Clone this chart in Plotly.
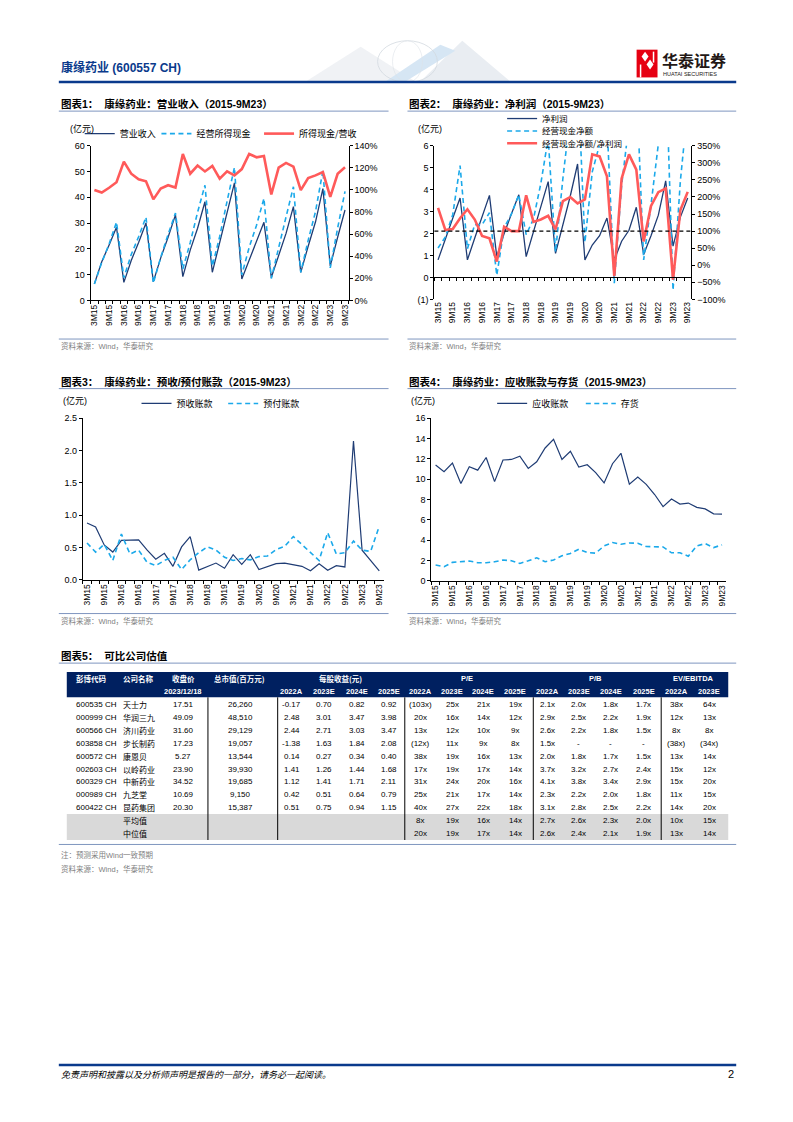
import plotly.graph_objects as go

# page is 793x1122; the browser body has an 8px margin, so the figure is 785x1114 shifted by 8px
PAGE_OFF = 8
W, H = 793 - PAGE_OFF, 1122 - PAGE_OFF

# ---------------- data ----------------
quarters = ["3M15", "6M15", "9M15", "12M15", "3M16", "6M16", "9M16", "12M16",
            "3M17", "6M17", "9M17", "12M17", "3M18", "6M18", "9M18", "12M18",
            "3M19", "6M19", "9M19", "12M19", "3M20", "6M20", "9M20", "12M20",
            "3M21", "6M21", "9M21", "12M21", "3M22", "6M22", "9M22", "12M22",
            "3M23", "6M23", "9M23"]
x_ticktext = ["3M15", "", "9M15", "", "3M16", "", "9M16", "",
              "3M17", "", "9M17", "", "3M18", "", "9M18", "",
              "3M19", "", "9M19", "", "3M20", "", "9M20", "",
              "3M21", "", "9M21", "", "3M22", "", "9M22", "",
              "3M23", "", "9M23"]

# chart 1 (亿元 / ratio)
revenue = [6.4, 15.0, 21.5, 28.4, 7.0, 15.5, 22.5, 30.0, 7.3, 16.5, 24.5, 33.2,
           9.2, 19.5, 28.0, 38.3, 10.9, 22.5, 33.0, 45.6, 8.3, 15.5, 22.5, 30.3,
           8.9, 17.5, 26.0, 36.4, 10.9, 21.0, 30.5, 43.4, 13.4, 24.5, 35.1]
cash_received = [6.4, 14.7, 21.9, 30.4, 8.8, 17.8, 24.7, 32.3, 6.7, 16.7, 25.6, 33.9,
                 12.2, 22.4, 34.2, 44.7, 13.3, 24.8, 38.5, 51.6, 9.9, 20.6, 29.2, 39.6,
                 8.5, 21.1, 32.4, 44.1, 10.9, 23.3, 34.5, 50.4, 12.6, 28.1, 42.3]
cash_ratio = [1.00, 0.977, 1.02, 1.07, 1.257, 1.147, 1.096, 1.078, 0.915, 1.013, 1.043, 1.022,
              1.326, 1.147, 1.221, 1.168, 1.218, 1.102, 1.168, 1.132, 1.189, 1.326, 1.296, 1.308,
              0.959, 1.203, 1.245, 1.212, 0.998, 1.108, 1.132, 1.162, 0.938, 1.147, 1.206]

# chart 2
net_profit = [0.80, 1.80, 2.70, 3.62, 0.80, 1.80, 2.80, 3.74, 0.95, 2.00, 2.90, 3.77,
              0.95, 2.10, 3.20, 4.37, 1.10, 2.40, 3.70, 5.17, 0.80, 1.48, 1.90, 2.71,
              0.80, 1.65, 2.15, 3.20, 1.05, 1.90, 2.84, 4.40, 1.43, 2.75, 3.62]
op_cash_net = [1.34, 1.85, 2.86, 5.10, 1.31, 2.41, 2.41, 2.95, 0.10, 2.26, 2.90, 3.77,
               1.95, 2.67, 4.29, 6.34, 1.16, 4.51, 7.40, 9.30, 1.60, 4.81, 6.06, 7.07,
               -0.26, 4.19, 6.99, 8.96, 0.80, 3.31, 6.08, 9.90, -0.58, 4.40, 7.78]
op_cash_ratio = [1.68, 1.03, 1.06, 1.38, 1.64, 1.34, 0.86, 0.79, 0.11, 1.13, 1.00, 1.00,
                 2.05, 1.27, 1.34, 1.45, 1.05, 1.88, 2.00, 1.81, 1.93, 3.25, 3.19, 2.61,
                 -0.32, 2.54, 3.25, 2.80, 0.70, 1.74, 2.14, 2.25, -0.42, 1.62, 2.15]

# chart 3
adv_receipts = [0.88, 0.82, 0.54, 0.43, 0.61, 0.62, 0.62, 0.46, 0.32, 0.41, 0.21, 0.51,
                0.67, 0.15, 0.21, 0.26, 0.18, 0.39, 0.24, 0.39, 0.16, 0.20, 0.25, 0.26,
                0.24, 0.21, 0.14, 0.25, 0.15, 0.22, 0.20, 2.15, 0.46, 0.30, 0.14]
prepayments = [0.57, 0.43, 0.55, 0.30, 0.71, 0.40, 0.46, 0.27, 0.22, 0.30, 0.35, 0.16,
               0.31, 0.42, 0.51, 0.46, 0.35, 0.30, 0.33, 0.31, 0.36, 0.37, 0.47, 0.52,
               0.67, 0.55, 0.42, 0.30, 0.73, 0.40, 0.42, 0.60, 0.46, 0.44, 0.83]

# chart 4
receivables = [11.40, 10.75, 11.60, 9.58, 11.23, 10.90, 12.14, 9.77, 11.90, 11.95, 12.27, 11.07,
               11.72, 13.08, 13.93, 11.95, 12.76, 11.20, 11.43, 10.65, 9.64, 11.53, 12.56, 9.51,
               10.23, 9.50, 8.50, 7.30, 8.05, 7.56, 7.66, 7.24, 7.08, 6.60, 6.56]
inventory = [1.56, 1.40, 1.82, 1.85, 1.95, 1.79, 1.79, 1.88, 2.05, 1.98, 1.72, 1.98,
             2.27, 1.88, 2.05, 2.47, 2.70, 3.12, 2.79, 2.73, 3.44, 3.77, 3.60, 3.73,
             3.70, 3.38, 3.34, 3.34, 2.76, 2.76, 2.43, 3.44, 3.67, 3.28, 3.54]

# table 5
tbl_codes = ["600535 CH", "000999 CH", "600566 CH", "603858 CH", "600572 CH",
             "002603 CH", "600329 CH", "000989 CH", "600422 CH"]
tbl_names = ["天士力", "华润三九", "济川药业", "步长制药", "康恩贝",
             "以岭药业", "中新药业", "九芝堂", "昆药集团"]
tbl_close = ["17.51", "49.09", "31.60", "17.23", "5.27", "23.90", "34.52", "10.69", "20.30"]
tbl_mcap = ["26,260", "48,510", "29,129", "19,057", "13,544", "39,930", "19,685", "9,150", "15,387"]
eps_22 = ["-0.17", "2.48", "2.44", "-1.38", "0.14", "1.41", "1.12", "0.42", "0.51"]
eps_23 = ["0.70", "3.01", "2.71", "1.63", "0.27", "1.26", "1.41", "0.51", "0.75"]
eps_24 = ["0.82", "3.47", "3.03", "1.84", "0.34", "1.44", "1.71", "0.64", "0.94"]
eps_25 = ["0.92", "3.98", "3.47", "2.08", "0.40", "1.68", "2.11", "0.79", "1.15"]
pe_22 = ["(103x)", "20x", "13x", "(12x)", "38x", "17x", "31x", "25x", "40x"]
pe_23 = ["25x", "16x", "12x", "11x", "19x", "19x", "24x", "21x", "27x"]
pe_24 = ["21x", "14x", "10x", "9x", "16x", "17x", "20x", "17x", "22x"]
pe_25 = ["19x", "12x", "9x", "8x", "13x", "14x", "16x", "14x", "18x"]
pb_22 = ["2.1x", "2.9x", "2.6x", "1.5x", "2.0x", "3.7x", "4.1x", "2.3x", "3.1x"]
pb_23 = ["2.0x", "2.5x", "2.2x", "-", "1.8x", "3.2x", "3.8x", "2.2x", "2.8x"]
pb_24 = ["1.8x", "2.2x", "1.8x", "-", "1.7x", "2.7x", "3.4x", "2.0x", "2.5x"]
pb_25 = ["1.7x", "1.9x", "1.5x", "-", "1.5x", "2.4x", "2.9x", "1.8x", "2.2x"]
ev_22 = ["38x", "12x", "8x", "(38x)", "13x", "15x", "15x", "11x", "14x"]
ev_23 = ["64x", "13x", "8x", "(34x)", "14x", "12x", "20x", "15x", "20x"]
mean_vals = ["8x", "19x", "16x", "14x", "2.7x", "2.6x", "2.3x", "2.0x", "10x", "15x"]
median_vals = ["20x", "19x", "17x", "14x", "2.6x", "2.4x", "2.1x", "1.9x", "13x", "14x"]
year_cols = ["2022A", "2023E", "2024E", "2025E"]

# ---------------- styling ----------------
CJK = "Noto Sans CJK SC"
NUM = "Liberation Sans"
MIX = "Liberation Sans, Noto Sans CJK SC"
DARK = "#1F3C74"
LIGHT = "#1BA9EA"
RED = "#FF5A5A"
NAVY = "#0A3A8C"
RULE = "#7F96BF"
DASH = "5px,3.5px"


def fx(x):
    return (x - PAGE_OFF) / W


def fy(y):
    return 1 - (y - PAGE_OFF) / H


fig = go.Figure()

# chart 1
fig.add_trace(go.Scatter(x=quarters, y=revenue, name="营业收入", mode="lines",
                         line=dict(color=DARK, width=1.3), xaxis="x", yaxis="y", legend="legend"))
fig.add_trace(go.Scatter(x=quarters, y=cash_received, name="经营所得现金", mode="lines",
                         line=dict(color=LIGHT, width=1.6, dash=DASH), xaxis="x", yaxis="y", legend="legend2"))
fig.add_trace(go.Scatter(x=quarters, y=cash_ratio, name="所得现金/营收", mode="lines",
                         line=dict(color=RED, width=2.6), xaxis="x", yaxis="y2", legend="legend3"))
# chart 2
fig.add_trace(go.Scatter(x=quarters, y=net_profit, name="净利润", mode="lines",
                         line=dict(color=DARK, width=1.3), xaxis="x2", yaxis="y3", legend="legend4"))
fig.add_trace(go.Scatter(x=quarters, y=op_cash_net, name="经营现金净额", mode="lines",
                         line=dict(color=LIGHT, width=1.6, dash=DASH), xaxis="x2", yaxis="y3", legend="legend5"))
fig.add_trace(go.Scatter(x=quarters, y=op_cash_ratio, name="经营现金净额/净利润", mode="lines",
                         line=dict(color=RED, width=2.6), xaxis="x2", yaxis="y4", legend="legend6"))
fig.add_trace(go.Scatter(x=quarters, y=[None] * len(quarters), mode="lines", showlegend=False,
                         hoverinfo="skip", xaxis="x5", yaxis="y3"))
# chart 3
fig.add_trace(go.Scatter(x=quarters, y=adv_receipts, name="预收账款", mode="lines",
                         line=dict(color=DARK, width=1.2), xaxis="x3", yaxis="y5", legend="legend7"))
fig.add_trace(go.Scatter(x=quarters, y=prepayments, name="预付账款", mode="lines",
                         line=dict(color=LIGHT, width=1.6, dash=DASH), xaxis="x3", yaxis="y5", legend="legend8"))
# chart 4
fig.add_trace(go.Scatter(x=quarters, y=receivables, name="应收账款", mode="lines",
                         line=dict(color=DARK, width=1.2), xaxis="x4", yaxis="y6", legend="legend9"))
fig.add_trace(go.Scatter(x=quarters, y=inventory, name="存货", mode="lines",
                         line=dict(color=LIGHT, width=1.6, dash=DASH), xaxis="x4", yaxis="y6", legend="legend10"))

tickf = dict(family=NUM, size=9, color="black")


def xaxis_cat(l, r, anchor, line=True):
    return dict(domain=[fx(l), fx(r)], anchor=anchor, type="category",
                categoryorder="array", categoryarray=quarters,
                tickmode="array", tickvals=quarters, ticktext=x_ticktext,
                tickangle=-90, tickfont=dict(family=NUM, size=8.5, color="black"),
                ticks="outside" if line else "", tickson="boundaries", ticklen=3,
                tickcolor="black", showline=line, linecolor="black", linewidth=1,
                showgrid=False, zeroline=False, range=[-0.5, len(quarters) - 0.5], fixedrange=True)


def yaxis_lin(t, b, anchor, rng, side="left", overlaying=None, **kw):
    d = dict(domain=[fy(b), fy(t)], anchor=anchor, range=rng, side=side, showline=True,
             linecolor="black", linewidth=1, ticks="outside", ticklen=3, tickcolor="black",
             showgrid=False, zeroline=False, tickfont=tickf, fixedrange=True)
    if overlaying:
        d["overlaying"] = overlaying
    d.update(kw)
    return d


c2_top, c2_bot, c2_min, c2_max = 142, 297, -1, 6
zero_pos = fy(c2_bot) + (0 - c2_min) / (c2_max - c2_min) * (fy(c2_top) - fy(c2_bot))

layout_axes = dict(
    xaxis=xaxis_cat(89, 348, "y"),
    yaxis=yaxis_lin(142, 298, "x", [0, 60], dtick=10, tick0=0),
    yaxis2=yaxis_lin(142, 298, "x", [0, 1.4], side="right", overlaying="y", dtick=0.2, tick0=0, tickformat=".0%"),
    xaxis2=xaxis_cat(434, 692, "y3", line=False),
    yaxis3=yaxis_lin(c2_top, c2_bot, "x2", [c2_min, c2_max], tickmode="array",
                     tickvals=[-1, 0, 1, 2, 3, 4, 5, 6], ticktext=["(1)", "0", "1", "2", "3", "4", "5", "6"]),
    yaxis4=yaxis_lin(c2_top, c2_bot, "x2", [-1.0, 3.5], side="right", overlaying="y3", dtick=0.5, tick0=0,
                     tickformat=".0%"),
    xaxis5=dict(xaxis_cat(434, 692, "free"), overlaying="x2", position=zero_pos, showticklabels=False,
                ticks="outside", showline=True),
    xaxis3=xaxis_cat(81, 383, "y5"),
    yaxis5=yaxis_lin(417, 580, "x3", [0, 2.5], dtick=0.5, tick0=0, tickformat=".1f"),
    xaxis4=xaxis_cat(431, 727, "y6"),
    yaxis6=yaxis_lin(417, 581, "x4", [0, 16], dtick=2, tick0=0),
)

# legends, one per series (position = start of the line sample, vertical centre)
legend_pos = {"legend": (88, 131.7, 9), "legend2": (165, 131.7, 9), "legend3": (268, 131.7, 9),
              "legend4": (512, 116.5, 8.5), "legend5": (512, 129, 8.5), "legend6": (512, 141.5, 8.5),
              "legend7": (145, 404, 9), "legend8": (232, 404, 9),
              "legend9": (502, 404, 9), "legend10": (591, 404, 9)}
legends = {}
for k, (lx, ly, fs) in legend_pos.items():
    legends[k] = dict(x=fx(lx - 10), y=fy(ly - 2), xanchor="left", yanchor="middle", orientation="h",
                      bgcolor="rgba(0,0,0,0)", borderwidth=0, font=dict(family=CJK, size=fs, color="black"),
                      itemclick=False, itemdoubleclick=False)

fig.update_layout(width=W, height=H, margin=dict(l=0, r=0, t=0, b=0), paper_bgcolor="white",
                  plot_bgcolor="rgba(0,0,0,0)", showlegend=True, **layout_axes, **legends)


def txt(x, y, s, size=8, color="black", anchor="center", family=MIX, bold=False, italic=False):
    if bold:
        s = "<b>" + s + "</b>"
    if italic:
        s = "<i>" + s + "</i>"
    fig.add_annotation(x=fx(x), y=fy(y), xref="paper", yref="paper", text=s, showarrow=False,
                       xanchor=anchor, yanchor="middle", font=dict(family=family, size=size, color=color))


shapes = []


def hline(x0, x1, y, color=RULE, width=1):
    shapes.append(dict(type="line", xref="paper", yref="paper", x0=fx(x0), x1=fx(x1), y0=fy(y), y1=fy(y),
                       line=dict(color=color, width=width)))


def vline(x, y0, y1, color="black", width=1):
    shapes.append(dict(type="line", xref="paper", yref="paper", x0=fx(x), x1=fx(x), y0=fy(y0), y1=fy(y1),
                       line=dict(color=color, width=width)))


def rect(x0, y0, x1, y1, fill):
    shapes.append(dict(type="rect", xref="paper", yref="paper", x0=fx(x0), x1=fx(x1), y0=fy(y1), y1=fy(y0),
                       line=dict(width=0), fillcolor=fill, layer="below"))


def poly(pts, fill, layer="below"):
    p = " ".join(("M" if i == 0 else "L") + f" {fx(px)} {fy(py)}" for i, (px, py) in enumerate(pts)) + " Z"
    shapes.append(dict(type="path", xref="paper", yref="paper", layer=layer, path=p,
                       fillcolor=fill, line=dict(width=0)))


# ---- page header ----
poly([(305, 77), (360, 42), (415, 77)], "#F0F2F5")
poly([(420, 77), (462, 36), (510, 77)], "#E9EDF2")
poly([(385, 77), (440, 40), (455, 46), (405, 77)], "#D6E6F4")
shapes.append(dict(type="circle", xref="paper", yref="paper", layer="below",
                   x0=fx(377), x1=fx(437), y0=fy(78), y1=fy(36), line=dict(color="#D3D9E0", width=0.8)))
shapes.append(dict(type="circle", xref="paper", yref="paper", layer="below",
                   x0=fx(392), x1=fx(422), y0=fy(78), y1=fy(36), line=dict(color="#DDE2E8", width=0.6)))
hline(57, 737, 77.5, color=NAVY, width=2.5)
txt(57, 63, "康缘药业 (600557 CH)", size=12, color=NAVY, anchor="left", bold=True)
rect(637, 45, 658, 73, "#E60012")
poly([(642, 52), (645.5, 47), (649, 52), (645.5, 57)], "white", layer="above")
poly([(647, 60), (650.5, 55), (654, 60), (650.5, 65)], "white", layer="above")
vline(641, 60, 73, color="white", width=1.5)
vline(654, 47, 58, color="white", width=1.5)
txt(660, 55, "华泰证券", size=16, color="#231815", anchor="left", family=CJK, bold=True)
txt(661, 69.5, "HUATAI SECURITIES", size=5.5, color="#231815", anchor="left", family=NUM)

# ---- chart titles / rules / sources ----
titles = [(57, 100, "图表1：\u00a0\u00a0康缘药业：营业收入（2015-9M23）"),
          (407, 100, "图表2：\u00a0\u00a0康缘药业：净利润（2015-9M23）"),
          (57, 380, "图表3：\u00a0\u00a0康缘药业：预收/预付账款（2015-9M23）"),
          (407, 380, "图表4：\u00a0\u00a0康缘药业：应收账款与存货（2015-9M23）"),
          (57, 657, "图表5：\u00a0\u00a0可比公司估值")]
for tx, ty, t in titles:
    txt(tx, ty, t, size=10.5, anchor="left", bold=True)
hline(57, 388, 107)
hline(407, 737, 107)
hline(57, 388, 387)
hline(407, 737, 387)
hline(57, 737, 664)

src = "资料来源：Wind，华泰研究"
hline(57, 388, 337)
hline(407, 737, 337)
txt(57, 344, src, size=7.5, color="#7F7F7F", anchor="left")
txt(407, 344, src, size=7.5, color="#7F7F7F", anchor="left")
hline(57, 388, 614)
hline(407, 737, 614)
txt(57, 622, src, size=7.5, color="#7F7F7F", anchor="left")
txt(407, 622, src, size=7.5, color="#7F7F7F", anchor="left")

# unit labels
txt(66, 125, "(亿元)", size=9, anchor="left")
txt(416, 125, "(亿元)", size=9, anchor="left")
txt(59, 399, "(亿元)", size=9, anchor="left")
txt(409, 399, "(亿元)", size=9, anchor="left")

# 100% reference line on chart 2
shapes.append(dict(type="line", xref="x2 domain", yref="y4", x0=0, x1=1, y0=1.0, y1=1.0,
                   line=dict(color="black", width=1.1, dash="4px,3px")))

# ---- table ----
T_L, T_R = 65, 729
rect(T_L, 673, T_R, 698.5, "#002060")
rect(T_L, 816.3, T_R, 842.5, "#D9D9D9")
for vx in [206.7, 276.7, 404.3, 533.3, 661.7]:
    vline(vx, 698.5, 842.5)

hdr = dict(size=7.5, color="white", bold=True)
txt(72, 680, "彭博代码", anchor="left", family=CJK, **hdr)
txt(119, 680, "公司名称", anchor="left", family=CJK, **hdr)
txt(182, 680, "收盘价", family=CJK, **hdr)
txt(238, 680, "总市值(百万元)", family=CJK, **hdr)
txt(340, 680, "每股收益(元)", family=CJK, **hdr)
txt(467, 680, "P/E", family=NUM, **hdr)
txt(596, 680, "P/B", family=NUM, **hdr)
txt(694, 680, "EV/EBITDA", family=NUM, **hdr)
txt(182, 692.5, "2023/12/18", family=NUM, **hdr)

eps_x = [291, 323, 356, 388]
pe_x = [420, 452, 483, 515]
pb_x = [548, 579, 611, 644]
ev_x = [677, 710]
for cx, yl in zip(eps_x + pe_x + pb_x, year_cols * 3):
    txt(cx, 692.5, yl, family=NUM, **hdr)
for cx, yl in zip(ev_x, year_cols[:2]):
    txt(cx, 692.5, yl, family=NUM, **hdr)

row_y0, row_h = 705.6, 13.05
value_cols = [(eps_x[0], eps_22), (eps_x[1], eps_23), (eps_x[2], eps_24), (eps_x[3], eps_25),
              (pe_x[0], pe_22), (pe_x[1], pe_23), (pe_x[2], pe_24), (pe_x[3], pe_25),
              (pb_x[0], pb_22), (pb_x[1], pb_23), (pb_x[2], pb_24), (pb_x[3], pb_25),
              (ev_x[0], ev_22), (ev_x[1], ev_23)]
for i in range(len(tbl_codes)):
    ry = row_y0 + row_h * i
    txt(72, ry, tbl_codes[i], size=8, anchor="left", family=NUM)
    txt(119, ry, tbl_names[i], size=8, anchor="left", family=CJK)
    txt(182, ry, tbl_close[i], size=8, family=NUM)
    txt(239, ry, tbl_mcap[i], size=8, family=NUM)
    for cx, col in value_cols:
        txt(cx, ry, col[i], size=8, family=NUM)

stat_x = pe_x + pb_x + ev_x
for j, (lab, vals) in enumerate([("平均值", mean_vals), ("中位值", median_vals)]):
    ry = row_y0 + row_h * (len(tbl_codes) + j)
    txt(119, ry, lab, size=8, anchor="left", family=CJK)
    for cx, v in zip(stat_x, vals):
        txt(cx, ry, v, size=8, family=NUM)

hline(57, 737, 847)
txt(57, 858, "注：预测采用Wind一致预期", size=7.5, color="#7F7F7F", anchor="left")
txt(57, 872, src, size=7.5, color="#7F7F7F", anchor="left")

# ---- footer ----
hline(57, 737, 1069.5, color=NAVY, width=2.5)
txt(57, 1079, "免责声明和披露以及分析师声明是报告的一部分，请务必一起阅读。", size=9, anchor="left",
    family=CJK, italic=True)
txt(737, 1079, "2", size=11, anchor="right", family=NUM)

fig.update_layout(shapes=shapes)
fig.write_html("out.html")
